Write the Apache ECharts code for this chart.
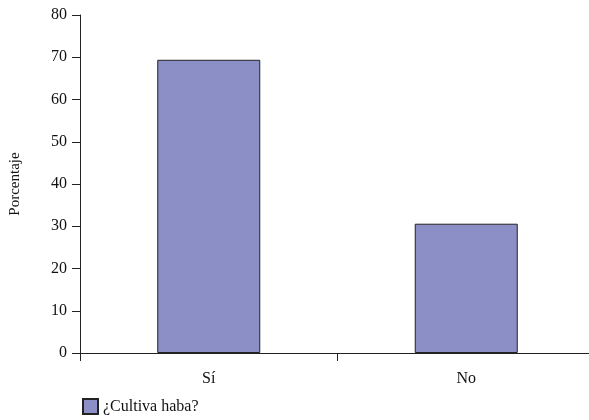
<!DOCTYPE html>
<html><head><meta charset="utf-8">
<script src="https://cdn.jsdelivr.net/npm/echarts@6/dist/echarts.min.js"></script>
<style>html,body{margin:0;padding:0;background:#fff}#c{width:589px;height:420px}</style>
</head><body><div id="c"></div>
<script>
const categories = ['Sí', 'No'];
const values = [69.4, 30.6];
const seriesName = '¿Cultiva haba?';
const yTicks = { min: 0, max: 80, interval: 10 };

const font = 'Liberation Serif';
const chart = echarts.init(document.getElementById('c'), null, { renderer: 'canvas' });
chart.setOption({
  animation: false,
  textStyle: { fontFamily: font },
  grid: { left: 80, width: 515, top: 15, bottom: 67, containLabel: false, outerBoundsMode: 'none' },
  legend: {
    data: [{ name: seriesName, icon: 'rect' }], left: 77, top: 393, itemWidth: 15, itemHeight: 15, itemGap: 6,
    textStyle: { fontFamily: font, fontSize: 16, color: '#111' }
  },
  xAxis: {
    type: 'category', data: categories,
    axisLine: { lineStyle: { color: '#222', width: 1 } },
    axisTick: { show: true, alignWithLabel: false, length: 8, lineStyle: { color: '#222' } },
    axisLabel: { fontFamily: font, fontSize: 16, color: '#111', margin: 18 }
  },
  yAxis: {
    type: 'value', min: yTicks.min, max: yTicks.max, interval: yTicks.interval,
    name: 'Porcentaje', nameLocation: 'middle', nameGap: 57, nameRotate: 90,
    nameTextStyle: { fontFamily: font, fontSize: 15, color: '#111' },
    axisLine: { show: true, lineStyle: { color: '#222', width: 1 } },
    axisTick: { show: true, length: 8, lineStyle: { color: '#222' } },
    axisLabel: { fontFamily: font, fontSize: 16, color: '#111', margin: 13 },
    splitLine: { show: false }
  },
  series: [{
    name: seriesName, type: 'bar', data: values, barWidth: '40%',
    itemStyle: { color: '#8b8fc6', borderColor: '#222', borderWidth: 1 }
  }]
});
</script></body></html>
